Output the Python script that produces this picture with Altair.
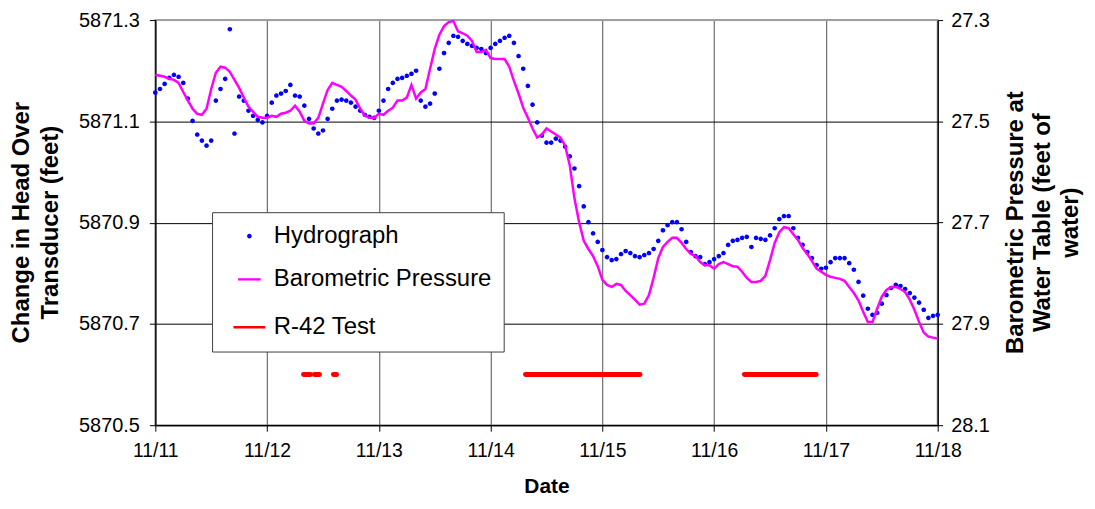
import altair as alt
import pandas as pd

# ---------------- data (hourly, starting 11/11 00:00) ----------------
hydro_ft = [
    5871.157, 5871.164, 5871.174, 5871.186, 5871.192, 5871.188, 5871.176, 5871.145, 5871.101, 5871.074, 5871.062, 5871.052,
    5871.062, 5871.141, 5871.164, 5871.184, 5871.282, 5871.076, 5871.149, 5871.141, 5871.121, 5871.111, 5871.103, 5871.098,
    5871.111, 5871.137, 5871.151, 5871.155, 5871.160, 5871.172, 5871.151, 5871.149, 5871.131, 5871.105, 5871.086, 5871.076,
    5871.082, 5871.105, 5871.125, 5871.141, 5871.143, 5871.141, 5871.137, 5871.129, 5871.121, 5871.113, 5871.109, 5871.107,
    5871.121, 5871.141, 5871.164, 5871.176, 5871.184, 5871.186, 5871.190, 5871.194, 5871.200, 5871.141, 5871.129, 5871.135,
    5871.155, 5871.204, 5871.235, 5871.255, 5871.269, 5871.267, 5871.259, 5871.253, 5871.249, 5871.245, 5871.243, 5871.235,
    5871.245, 5871.253, 5871.259, 5871.265, 5871.269, 5871.255, 5871.229, 5871.204, 5871.170, 5871.133, 5871.098, 5871.072,
    5871.058, 5871.058, 5871.066, 5871.062, 5871.050, 5871.031, 5871.007, 5870.972, 5870.932, 5870.901, 5870.879, 5870.862,
    5870.846, 5870.832, 5870.826, 5870.828, 5870.838, 5870.844, 5870.840, 5870.834, 5870.832, 5870.836, 5870.840, 5870.848,
    5870.864, 5870.885, 5870.895, 5870.901, 5870.901, 5870.887, 5870.862, 5870.842, 5870.834, 5870.832, 5870.818, 5870.822,
    5870.828, 5870.834, 5870.840, 5870.856, 5870.864, 5870.866, 5870.870, 5870.872, 5870.852, 5870.870, 5870.868, 5870.866,
    5870.875, 5870.889, 5870.907, 5870.913, 5870.913, 5870.889, 5870.870, 5870.856, 5870.842, 5870.830, 5870.816, 5870.809,
    5870.811, 5870.822, 5870.830, 5870.830, 5870.830, 5870.820, 5870.807, 5870.783, 5870.756, 5870.730, 5870.718, 5870.722,
    5870.740, 5870.757, 5870.771, 5870.777, 5870.775, 5870.769, 5870.761, 5870.752, 5870.742, 5870.728, 5870.712, 5870.716,
    5870.718,
]

baro_ft = [
    27.408, 27.410, 27.412, 27.416, 27.418, 27.424, 27.442, 27.459, 27.475, 27.485, 27.487, 27.475,
    27.436, 27.404, 27.392, 27.394, 27.402, 27.418, 27.434, 27.453, 27.471, 27.481, 27.491, 27.493,
    27.493, 27.489, 27.491, 27.485, 27.483, 27.479, 27.469, 27.481, 27.499, 27.504, 27.504, 27.493,
    27.465, 27.438, 27.424, 27.428, 27.432, 27.440, 27.449, 27.457, 27.475, 27.489, 27.493, 27.493,
    27.485, 27.487, 27.479, 27.473, 27.459, 27.459, 27.453, 27.428, 27.455, 27.443, 27.436, 27.396,
    27.357, 27.329, 27.312, 27.304, 27.302, 27.322, 27.326, 27.331, 27.341, 27.363, 27.363, 27.359,
    27.375, 27.377, 27.377, 27.377, 27.392, 27.420, 27.445, 27.473, 27.493, 27.514, 27.532, 27.526,
    27.514, 27.520, 27.526, 27.532, 27.548, 27.587, 27.652, 27.699, 27.736, 27.752, 27.766, 27.786,
    27.813, 27.823, 27.827, 27.821, 27.823, 27.835, 27.843, 27.852, 27.862, 27.860, 27.843, 27.809,
    27.770, 27.748, 27.738, 27.730, 27.730, 27.740, 27.752, 27.762, 27.766, 27.778, 27.784, 27.784,
    27.791, 27.782, 27.778, 27.782, 27.786, 27.787, 27.797, 27.809, 27.817, 27.817, 27.815, 27.805,
    27.774, 27.740, 27.719, 27.709, 27.711, 27.723, 27.734, 27.750, 27.762, 27.776, 27.791, 27.797,
    27.803, 27.807, 27.809, 27.811, 27.815, 27.827, 27.839, 27.854, 27.876, 27.896, 27.896, 27.870,
    27.846, 27.833, 27.827, 27.827, 27.831, 27.837, 27.852, 27.872, 27.896, 27.917, 27.925, 27.927,
    27.929,
]

# R-42 test periods (plotted at a constant level on the left axis)
test_start = ["2004-11-12T07:50", "2004-11-12T10:10", "2004-11-12T14:15", "2004-11-14T07:30", "2004-11-16T06:30"]
test_end = ["2004-11-12T09:20", "2004-11-12T11:15", "2004-11-12T14:55", "2004-11-15T08:05", "2004-11-16T21:55"]
test_level = 5870.6

series_names = ["Hydrograph", "Barometric Pressure", "R-42 Test"]
series_colors = ["#0000ff", "#ff00ff", "#ff0000"]

left_ticks = [5870.5, 5870.7, 5870.9, 5871.1, 5871.3]
right_ticks = [27.3, 27.5, 27.7, 27.9, 28.1]

# ---------------- tables ----------------
times = pd.date_range("2004-11-11 00:00", periods=len(hydro_ft), freq="h").strftime("%Y-%m-%dT%H:%M:%S")
df = pd.DataFrame({"time": list(times), "hydro": hydro_ft, "baro": baro_ft, "series": "Hydrograph"})
df_test = pd.DataFrame({"start": test_start, "end": test_end, "level": test_level})

FONT = "Liberation Sans"
x_domain = [alt.DateTime(year=2004, month=11, date=11), alt.DateTime(year=2004, month=11, date=18)]
x_scale = alt.Scale(domain=x_domain)
left_scale = alt.Scale(domain=[5870.5, 5871.3], zero=False, nice=False)

x_axis = alt.Axis(
    format="%m/%d", tickCount={"interval": "day", "step": 1},
    labelAlign="center", labelFlush=False, labelOverlap=False,
    labelFontSize=19.5, labelPadding=10, tickSize=6, labelFont=FONT,
    grid=True, gridColor="#505050", gridWidth=1,
    titleFontSize=21, titleFontWeight="bold", titleY=51, titleBaseline="top", titleFont=FONT,
)

leg = alt.Legend(
    title=None, orient="none", legendX=57, legendY=193, direction="vertical",
    labelFont=FONT, labelFontSize=24, labelColor="black", labelOffset=7, labelLimit=400,
    padding=12, rowPadding=18.5, symbolOffset=8, strokeColor="#404040", fillColor="white",
    symbolOpacity=1,
)

points = alt.Chart(df).mark_point(filled=False, opacity=1).encode(
    x=alt.X("time:T", scale=x_scale, axis=x_axis, title="Date"),
    y=alt.Y(
        "hydro:Q", scale=left_scale,
        axis=alt.Axis(
            orient="left", values=left_ticks, format=".1f",
            labelFontSize=20, labelPadding=10, tickSize=6, labelFont=FONT,
            grid=True, gridWidth=1,
            gridColor={"condition": {"test": "datum.value > 5871.25", "value": "#a0a0a0"}, "value": "black"},
            title=["Change in Head Over", "Transducer (feet)"],
            titleFontSize=24, titleFontWeight="bold", titleFont=FONT, titleAngle=-90,
            titleX=-146, titleY=203, titleBaseline="top", titleAlign="center", titleLineHeight=29,
        ),
    ),
    color=alt.Color("series:N", scale=alt.Scale(domain=series_names, range=series_colors), legend=leg),
    shape=alt.Shape("series:N", scale=alt.Scale(domain=series_names, range=["circle", "stroke", "stroke"]), legend=leg),
    size=alt.Size("series:N", scale=alt.Scale(domain=series_names, range=[6, 1024, 1024]), legend=leg),
    strokeWidth=alt.StrokeWidth("series:N", scale=alt.Scale(domain=series_names, range=[2.2, 2.5, 5]), legend=leg),
)

test = alt.Chart(df_test).mark_rule(color="#ff0000", strokeWidth=5, strokeCap="round").encode(
    x=alt.X("start:T", scale=x_scale, title="Date"),
    x2="end:T",
    y=alt.Y("level:Q", scale=left_scale, axis=None),
)

baro = alt.Chart(df).mark_line(color="#ff00ff", strokeWidth=2.5).encode(
    x=alt.X("time:T", scale=x_scale, title="Date"),
    y=alt.Y(
        "baro:Q", scale=alt.Scale(domain=[27.3, 28.1], reverse=True, zero=False, nice=False),
        axis=alt.Axis(
            orient="right", values=right_ticks, format=".1f",
            labelFontSize=20, labelPadding=8, tickSize=5, labelFont=FONT, grid=False,
            title=["Barometric Pressure at", "Water Table (feet of", "water)"],
            titleFontSize=24, titleFontWeight="bold", titleFont=FONT, titleAngle=-90,
            titleX=66, titleY=203, titleBaseline="top", titleAlign="center", titleLineHeight=27.5,
        ),
    ),
)

chart = (
    alt.layer(points, test, baro)
    .resolve_scale(y="independent")
    .properties(
        width=786, height=407,
        autosize=alt.AutoSizeParams(type="none"),
        padding={"left": 148, "top": 11, "right": 150, "bottom": 73},
    )
    .configure_view(stroke="#a0a0a0", strokeWidth=2)
    .configure_axis(domainColor="black", tickColor="black", labelColor="black", titleColor="black", domainWidth=1.2)
)

chart.save("out.html", embed_options={"renderer": "svg", "actions": False})
